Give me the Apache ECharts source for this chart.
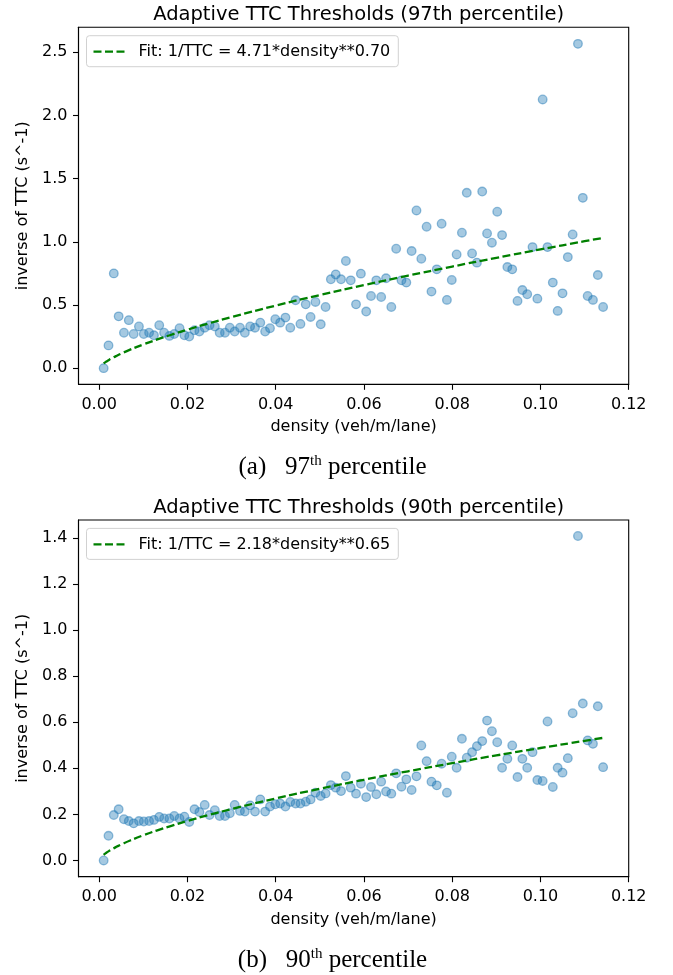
<!DOCTYPE html>
<html>
<head>
<meta charset="utf-8">
<script src="https://cdn.jsdelivr.net/npm/echarts@6/dist/echarts.min.js"></script>
<style>html,body{margin:0;padding:0;background:#fff;}#c{width:673px;height:975px;}</style>
</head>
<body>
<div id="c"></div>
<script>
// density bins (veh/m/lane)
const density = [0.0010,0.0021,0.0033,0.0044,0.0056,0.0067,0.0078,0.0090,0.0101,0.0113,
0.0124,0.0136,0.0147,0.0159,0.0170,0.0182,0.0193,0.0204,0.0216,0.0227,
0.0239,0.0250,0.0262,0.0273,0.0285,0.0296,0.0307,0.0319,0.0330,0.0342,
0.0353,0.0365,0.0376,0.0387,0.0399,0.0410,0.0422,0.0433,0.0445,0.0456,
0.0468,0.0479,0.0490,0.0502,0.0513,0.0525,0.0536,0.0548,0.0559,0.0570,
0.0582,0.0593,0.0605,0.0616,0.0628,0.0639,0.0650,0.0662,0.0673,0.0685,
0.0696,0.0708,0.0719,0.0730,0.0742,0.0753,0.0765,0.0776,0.0788,0.0799,
0.0810,0.0822,0.0833,0.0845,0.0856,0.0868,0.0879,0.0890,0.0902,0.0913,
0.0925,0.0936,0.0948,0.0959,0.0970,0.0982,0.0993,0.1005,0.1016,0.1028,
0.1039,0.1050,0.1062,0.1073,0.1085,0.1096,0.1107,0.1119,0.1130,0.1142];

// inverse TTC, 97th percentile
const inv97 = [0.00,0.18,0.75,0.41,0.28,0.38,0.27,0.33,0.27,0.28,
0.26,0.34,0.28,0.255,0.27,0.316,0.26,0.25,0.30,0.29,
0.32,0.34,0.33,0.28,0.28,0.32,0.29,0.32,0.28,0.33,
0.32,0.36,0.29,0.316,0.387,0.36,0.40,0.32,0.537,0.35,
0.505,0.405,0.524,0.347,0.484,0.703,0.742,0.703,0.848,0.695,
0.505,0.748,0.448,0.571,0.695,0.563,0.711,0.484,0.945,0.695,
0.677,0.927,1.248,0.866,1.119,0.606,0.782,1.143,0.540,0.698,
0.900,1.072,1.388,0.908,0.835,1.398,1.066,0.993,1.238,1.053,
0.800,0.782,0.532,0.618,0.585,0.958,0.550,2.127,0.958,0.677,
0.453,0.592,0.879,1.058,2.567,1.348,0.571,0.540,0.737,0.484];

// inverse TTC, 90th percentile
const inv90 = [0.000,0.107,0.197,0.222,0.179,0.171,0.161,0.171,0.169,0.171,
0.176,0.189,0.182,0.182,0.193,0.182,0.190,0.167,0.222,0.210,
0.241,0.197,0.218,0.193,0.193,0.205,0.241,0.215,0.212,0.239,
0.212,0.265,0.212,0.234,0.244,0.247,0.234,0.254,0.247,0.247,
0.255,0.265,0.294,0.280,0.291,0.327,0.316,0.301,0.366,0.316,
0.290,0.333,0.275,0.319,0.287,0.342,0.299,0.290,0.378,0.320,
0.352,0.306,0.365,0.499,0.431,0.342,0.326,0.420,0.294,0.450,
0.402,0.528,0.446,0.470,0.496,0.518,0.607,0.561,0.513,0.402,
0.441,0.499,0.362,0.441,0.402,0.470,0.349,0.345,0.603,0.319,
0.402,0.381,0.444,0.639,1.408,0.681,0.521,0.506,0.669,0.405];

// fitted curves, sampled along the dashed lines
const fitX  = [0.001,0.0015,0.002,0.003,0.004,0.005,0.007,0.010,0.013,0.016,0.020,0.025,0.030,0.040,0.050,0.060,0.070,0.080,0.090,0.100,0.110,0.1142];
const fit97 = [0.0374,0.0497,0.0607,0.0807,0.0987,0.1154,0.1460,0.1875,0.2253,0.2605,0.3046,0.3561,0.4045,0.4949,0.5784,0.6571,0.7322,0.8040,0.8731,0.9398,1.0045,1.0312];
const fit90 = [0.0245,0.0318,0.0384,0.0500,0.0602,0.0696,0.0867,0.1093,0.1296,0.1483,0.1715,0.1982,0.2231,0.2690,0.3110,0.3502,0.3871,0.4222,0.4558,0.4880,0.5192,0.5320];

const xTicks = [0, 0.02, 0.04, 0.06, 0.08, 0.10, 0.12];
const yTicks97 = [0, 0.5, 1.0, 1.5, 2.0, 2.5];
const yTicks90 = [0, 0.2, 0.4, 0.6, 0.8, 1.0, 1.2, 1.4];

const name97 = 'Fit: 1/TTC = 4.71*density**0.70';
const name90 = 'Fit: 1/TTC = 2.18*density**0.65';
const title97 = 'Adaptive TTC Thresholds (97th percentile)';
const title90 = 'Adaptive TTC Thresholds (90th percentile)';

const FONT = 'DejaVu Sans';
const zip = (a, b) => a.map((v, i) => [v, b[i]]);
const DASH_ICON = 'path://M0,0h8v2.3h-8zM11.5,0h8v2.3h-8zM23,0h8v2.3h-8z';

const chart = echarts.init(document.getElementById('c'), null, {renderer: 'canvas'});

function xAxisDef(gi) {
  return {
    type: 'value', gridIndex: gi, min: -0.0047, max: 0.12,
    name: 'density (veh/m/lane)', nameLocation: 'middle', nameGap: 35,
    nameTextStyle: {fontFamily: FONT, fontSize: 16, color: '#000'},
    axisLine: {show: true, onZero: false, lineStyle: {color: '#000', width: 1.1}},
    axisTick: {show: true, inside: false, length: 5.5, lineStyle: {color: '#000', width: 1.1}, customValues: xTicks},
    axisLabel: {fontFamily: FONT, fontSize: 16, color: '#000', margin: 12.5, customValues: xTicks,
      formatter: v => v.toFixed(2)},
    splitLine: {show: false}
  };
}
function yAxisDef(gi, min, max, ticks) {
  return {
    type: 'value', gridIndex: gi, min: min, max: max,
    name: 'inverse of TTC (s^-1)', nameLocation: 'middle', nameGap: 48, nameRotate: 90,
    nameTextStyle: {fontFamily: FONT, fontSize: 16, color: '#000'},
    axisLine: {show: true, onZero: false, lineStyle: {color: '#000', width: 1.1}},
    axisTick: {show: true, inside: false, length: 5.5, lineStyle: {color: '#000', width: 1.1}, customValues: ticks},
    axisLabel: {fontFamily: FONT, fontSize: 16, color: '#000', margin: 11, customValues: ticks,
      formatter: v => v.toFixed(1)},
    splitLine: {show: false}
  };
}
function legendDef(name, top) {
  return {
    data: [{name: name, icon: DASH_ICON, itemStyle: {color: '#008000'}}],
    left: 86.5, top: top, orient: 'horizontal',
    itemWidth: 31, itemHeight: 2.3,
    padding: [7, 8, 6, 7],
    borderColor: 'rgba(204,204,204,0.9)', borderWidth: 1, borderRadius: 3,
    backgroundColor: 'rgba(255,255,255,0.8)',
    textStyle: {fontFamily: FONT, fontSize: 16, color: '#000', padding: [0, 0, 0, 9], lineHeight: 18},
    selectedMode: false
  };
}
const scatterStyle = {color: 'rgba(31,119,180,0.5)', borderColor: 'rgba(31,119,180,0.6)', borderWidth: 1.3};
const fitLine = {color: '#008000', width: 2.3, type: [8, 3.5]};

const option = {
  animation: false,
  backgroundColor: '#fff',
  title: [
    {text: title97, left: 353.6, textAlign: 'center', top: 0,
     textStyle: {fontFamily: FONT, fontSize: 19.5, fontWeight: 'normal', color: '#000'}},
    {text: title90, left: 353.6, textAlign: 'center', top: 492.5,
     textStyle: {fontFamily: FONT, fontSize: 19.5, fontWeight: 'normal', color: '#000'}}
  ],
  legend: [legendDef(name97, 35.7), legendDef(name90, 528.4)],
  grid: [
    {left: 78.5, top: 27.3, width: 550.2, height: 357, show: true, borderColor: '#000', borderWidth: 1.1, containLabel: false},
    {left: 78.5, top: 520, width: 550.2, height: 356.7, show: true, borderColor: '#000', borderWidth: 1.1, containLabel: false}
  ],
  xAxis: [xAxisDef(0), xAxisDef(1)],
  yAxis: [yAxisDef(0, -0.128, 2.698, yTicks97), yAxisDef(1, -0.0705, 1.4775, yTicks90)],
  series: [
    {type: 'scatter', name: 'data97', xAxisIndex: 0, yAxisIndex: 0, data: zip(density, inv97),
     symbolSize: 8.6, itemStyle: scatterStyle, z: 2},
    {type: 'line', name: name97, xAxisIndex: 0, yAxisIndex: 0, data: zip(fitX, fit97),
     smooth: true, symbol: 'none', showSymbol: false, lineStyle: fitLine, itemStyle: {color: '#008000'}, z: 3},
    {type: 'scatter', name: 'data90', xAxisIndex: 1, yAxisIndex: 1, data: zip(density, inv90),
     symbolSize: 8.6, itemStyle: scatterStyle, z: 2},
    {type: 'line', name: name90, xAxisIndex: 1, yAxisIndex: 1, data: zip(fitX, fit90),
     smooth: true, symbol: 'none', showSymbol: false, lineStyle: fitLine, itemStyle: {color: '#008000'}, z: 3}
  ],
  graphic: [
    {type: 'text', x: 332.5, y: 466, style: {
      text: '{a|(a)   97}{s|th}{a| percentile}', align: 'center', verticalAlign: 'middle',
      rich: {
        a: {fontFamily: 'Liberation Serif', fontSize: 25, color: '#000', lineHeight: 28, verticalAlign: 'bottom'},
        s: {fontFamily: 'Liberation Serif', fontSize: 15, color: '#000', lineHeight: 28, verticalAlign: 'top', padding: [2, 0, 0, 0]}
      }}},
    {type: 'text', x: 332.5, y: 959, style: {
      text: '{a|(b)   90}{s|th}{a| percentile}', align: 'center', verticalAlign: 'middle',
      rich: {
        a: {fontFamily: 'Liberation Serif', fontSize: 25, color: '#000', lineHeight: 28, verticalAlign: 'bottom'},
        s: {fontFamily: 'Liberation Serif', fontSize: 15, color: '#000', lineHeight: 28, verticalAlign: 'top', padding: [2, 0, 0, 0]}
      }}}
  ]
};
chart.setOption(option);
</script>
</body>
</html>
